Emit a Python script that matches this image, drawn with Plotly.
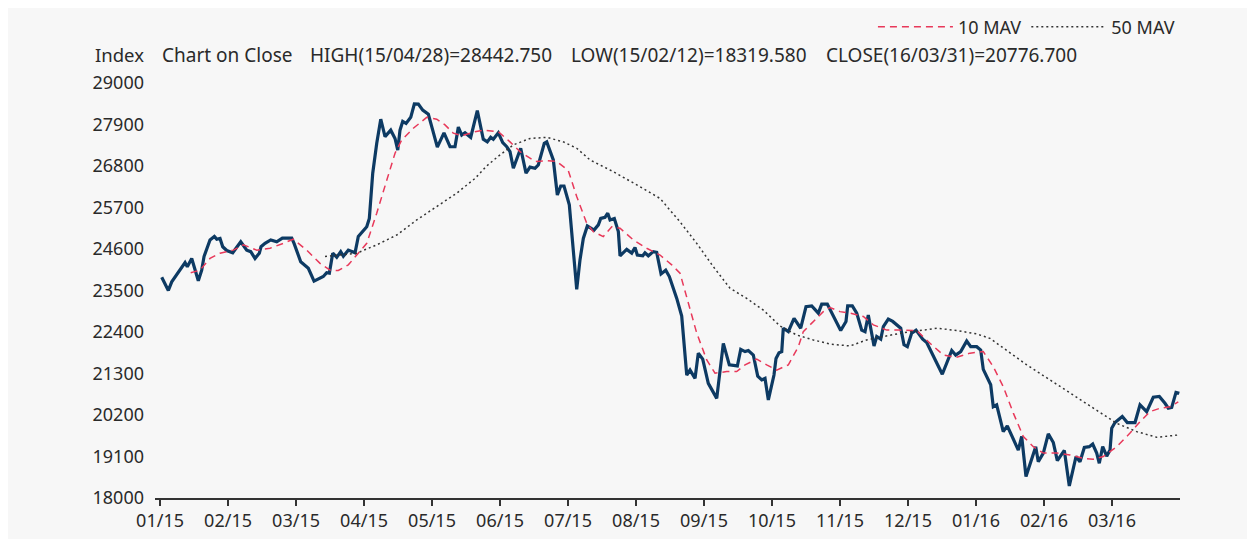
import plotly.graph_objects as go

# x positions are in months since 1 Jan 2015 (0 = 01/15, 1 = 02/15, ...)
month_labels = ["01/15", "02/15", "03/15", "04/15", "05/15", "06/15", "07/15", "08/15",
                "09/15", "10/15", "11/15", "12/15", "01/16", "02/16", "03/16"]
y_ticks = [18000, 19100, 20200, 21300, 22400, 23500, 24600, 25700, 26800, 27900, 29000]

close_t = [0.025, 0.122, 0.172, 0.246, 0.368, 0.401, 0.466, 0.563, 0.613, 0.647, 0.735, 0.799,
           0.834, 0.882, 0.922, 0.981, 1.069, 1.187, 1.275, 1.334, 1.397, 1.460, 1.485, 1.544,
           1.628, 1.716, 1.799, 1.937, 1.971, 2.069, 2.181, 2.265, 2.401, 2.451, 2.490, 2.540,
           2.599, 2.657, 2.696, 2.769, 2.868, 2.916, 3.040, 3.078, 3.128, 3.187, 3.246, 3.309,
           3.393, 3.456, 3.496, 3.529, 3.569, 3.618, 3.687, 3.740, 3.799, 3.863, 3.946, 4.010,
           4.078, 4.176, 4.265, 4.338, 4.387, 4.437, 4.485, 4.569, 4.666, 4.754, 4.813, 4.863,
           4.901, 4.975, 5.040, 5.099, 5.147, 5.196, 5.304, 5.382, 5.441, 5.515, 5.563, 5.651,
           5.687, 5.784, 5.843, 5.893, 5.941, 6.019, 6.128, 6.176, 6.225, 6.284, 6.382, 6.446,
           6.481, 6.544, 6.584, 6.618, 6.681, 6.740, 6.765, 6.863, 6.937, 6.985, 7.019, 7.099,
           7.132, 7.181, 7.254, 7.304, 7.368, 7.437, 7.490, 7.599, 7.672, 7.746, 7.794, 7.868,
           7.916, 7.981, 8.063, 8.187, 8.284, 8.372, 8.490, 8.540, 8.603, 8.652, 8.725, 8.790,
           8.849, 8.897, 8.946, 9.029, 9.059, 9.103, 9.143, 9.166, 9.240, 9.324, 9.422, 9.500,
           9.584, 9.681, 9.731, 9.813, 9.901, 10.010, 10.088, 10.113, 10.181, 10.246, 10.319,
           10.368, 10.416, 10.500, 10.540, 10.599, 10.637, 10.710, 10.775, 10.893, 10.941,
           10.990, 11.054, 11.118, 11.216, 11.275, 11.504, 11.643, 11.701, 11.775, 11.863,
           11.922, 12.010, 12.069, 12.107, 12.157, 12.216, 12.254, 12.304, 12.401, 12.460,
           12.622, 12.672, 12.735, 12.819, 12.878, 12.916, 12.990, 13.063, 13.137, 13.196,
           13.299, 13.372, 13.471, 13.529, 13.593, 13.666, 13.716, 13.775, 13.813, 13.863,
           13.922, 13.971, 13.996, 14.044, 14.151, 14.225, 14.338, 14.412, 14.510, 14.607,
           14.696, 14.779, 14.828, 14.878, 14.941, 14.990]
close_v = [23850, 23500, 23730, 23910, 24240, 24130, 24350, 23760, 24040, 24400, 24840, 24930,
           24860, 24880, 24660, 24560, 24500, 24790, 24570, 24530, 24350, 24490, 24660, 24750,
           24840, 24790, 24890, 24890, 24750, 24260, 24090, 23750, 23870, 23970, 23960, 24490,
           24380, 24530, 24410, 24570, 24500, 24930, 25190, 25410, 26610, 27400, 28040, 27580,
           27750, 27530, 27220, 27750, 27980, 27930, 28090, 28443, 28440, 28280, 28170, 27750,
           27300, 27680, 27310, 27310, 27830, 27620, 27680, 27560, 28270, 27510, 27440, 27560,
           27510, 27680, 27420, 27310, 27180, 26740, 27270, 26610, 26770, 26740, 26830, 27400,
           27440, 26960, 26030, 26270, 26270, 25770, 23530, 24310, 24880, 25210, 25100, 25240,
           25410, 25440, 25550, 25370, 25410, 25060, 24420, 24590, 24490, 24640, 24440, 24420,
           24500, 24420, 24530, 24510, 23940, 24040, 23870, 23290, 22820, 21260, 21390, 21170,
           21840, 21680, 21040, 20640, 22100, 21530, 21500, 21940, 21880, 21910, 21790, 21230,
           21130, 21170, 20600, 21260, 21700, 21850, 21880, 22500, 22410, 22760, 22500, 23070,
           23090, 22900, 23140, 23140, 22810, 22440, 22680, 23090, 23090, 22900, 22450,
           22410, 22850, 22030, 22280, 22210, 22540, 22740, 22680, 22500, 22060,
           22010, 22370, 22450, 22210, 22120, 21280, 21910, 21790, 21880, 22160,
           22010, 22010, 21920, 21410, 21220, 21000, 20420, 20470, 19760, 19910,
           19270, 19630, 18570, 19010, 19360, 18960, 19190, 19700, 19470, 18990,
           19260, 18320, 19100, 18960, 19340, 19360, 19430, 19190, 18920, 19360,
           19110, 19270, 19850, 20000, 20160, 20000, 20000, 20470, 20290, 20670,
           20690, 20510, 20380, 20400, 20800, 20777]

mav10_t = [0.451, 0.588, 0.735, 0.882, 1.078, 1.225, 1.422, 1.618, 1.813, 1.960, 2.157, 2.353,
           2.500, 2.622, 2.769, 2.916, 3.040, 3.187, 3.334, 3.456, 3.554, 3.725, 3.922, 4.069,
           4.191, 4.313, 4.437, 4.632, 4.754, 4.975, 5.147, 5.294, 5.515, 5.687, 5.834, 6.004,
           6.128, 6.275, 6.372, 6.519, 6.643, 6.765, 6.960, 7.157, 7.353, 7.525, 7.647, 7.769,
           7.893, 8.040, 8.162, 8.334, 8.481, 8.603, 8.775, 8.922, 9.069, 9.240, 9.387, 9.460,
           9.607, 9.754, 9.853, 10.000, 10.147, 10.343, 10.490, 10.687, 10.882, 11.128, 11.324,
           11.519, 11.716, 11.912, 12.107, 12.254, 12.401, 12.549, 12.696, 12.843, 12.990,
           13.187, 13.382, 13.578, 13.725, 13.872, 14.069, 14.265, 14.412, 14.559, 14.706,
           14.853, 14.975]
mav10_v = [23970, 24040, 24350, 24490, 24570, 24710, 24570, 24620, 24750, 24860, 24570, 24220,
           24040, 24030, 24180, 24490, 24750, 25550, 26430, 27140, 27490, 27800, 28090, 28040,
           27890, 27670, 27600, 27710, 27750, 27710, 27440, 27180, 26920, 26940, 26920, 26680,
           25990, 25280, 25060, 24930, 25190, 25150, 24840, 24620, 24440, 24180, 23960, 23160,
           22370, 21660, 21310, 21350, 21350, 21530, 21680, 21530, 21390, 21530, 22010, 22410,
           22680, 22940, 23050, 22940, 22900, 22810, 22590, 22450, 22450, 22440, 22100,
           21790, 21730, 21840, 21880, 21480, 20950, 20250, 19630, 19360, 19190,
           19190, 19140, 19050, 19030, 19100, 19360, 19720, 20020, 20290, 20380,
           20420, 20550]

mav50_t = [2.426, 2.893, 3.187, 3.481, 3.775, 4.069, 4.363, 4.632, 4.804, 4.975, 5.196, 5.441,
           5.687, 5.931, 6.128, 6.324, 6.666, 7.010, 7.353, 7.647, 7.893, 8.137, 8.382, 8.628,
           8.872, 9.118, 9.363, 9.607, 9.853, 10.147, 10.393, 10.637, 10.931, 11.225, 11.422,
           11.716, 12.010, 12.206, 12.451, 12.746, 13.088, 13.431, 13.775, 14.069, 14.363,
           14.657, 14.975]
mav50_v = [24400, 24490, 24710, 24970, 25370, 25720, 26080, 26470, 26800, 27060, 27360, 27530,
           27560, 27440, 27270, 26960, 26650, 26300, 25940, 25320, 24750, 24130, 23560, 23290,
           22980, 22560, 22320, 22190, 22080, 22030, 22190, 22280, 22380, 22450, 22500,
           22440, 22350, 22230, 21920, 21530, 21130, 20730, 20330, 19980, 19760,
           19610, 19670]

header_index = "Index"
header_parts = ["Chart on Close", "HIGH(15/04/28)=28442.750",
                "LOW(15/02/12)=18319.580", "CLOSE(16/03/31)=20776.700"]
header_x = [0.0049, 0.1493, 0.4039, 0.6527]

FONT = "Noto Sans"
TXT = "#2a2a2a"

fig = go.Figure()
fig.add_trace(go.Scatter(x=close_t, y=close_v, mode="lines", name="Close", showlegend=False,
                         line=dict(color="#0d3a63", width=3.2, shape="linear")))
fig.add_trace(go.Scatter(x=mav10_t, y=mav10_v, mode="lines", name="10 MAV",
                         line=dict(color="#e8395a", width=1.5, dash="7px,5px")))
fig.add_trace(go.Scatter(x=mav50_t, y=mav50_v, mode="lines", name="50 MAV",
                         line=dict(color="#333333", width=1.5, dash="2px,3px")))

annotations = [dict(text=header_index, xref="paper", yref="paper", x=-0.0605, y=1.0675,
                    xanchor="left", yanchor="middle", showarrow=False,
                    font=dict(family=FONT, size=18.5, color=TXT))]
for t, xp in zip(header_parts, header_x):
    annotations.append(dict(text=t, xref="paper", yref="paper", x=xp, y=1.0675,
                            xanchor="left", yanchor="middle", showarrow=False,
                            font=dict(family=FONT, size=19, color=TXT)))

fig.update_layout(
    width=1247, height=531,
    margin=dict(l=147, r=75, t=75, b=41, pad=0, autoexpand=False),
    paper_bgcolor="#f7f7f7", plot_bgcolor="#f7f7f7",
    font=dict(family=FONT, size=18, color=TXT),
    annotations=annotations,
    legend=dict(orientation="h", xref="container", yref="container",
                x=0.9398, xanchor="right", y=0.9642, yanchor="middle",
                bgcolor="rgba(0,0,0,0)", font=dict(family=FONT, size=18, color=TXT),
                itemwidth=75, traceorder="normal"),
    xaxis=dict(range=[-0.074, 15.0], tickmode="array", tickvals=list(range(len(month_labels))),
               ticktext=month_labels, showgrid=False, zeroline=False, automargin=False,
               showline=True, linecolor="#333333", linewidth=1.5,
               ticks="outside", ticklen=6, tickwidth=1.5, tickcolor="#333333"),
    yaxis=dict(range=[18000, 29000], tickmode="array", tickvals=y_ticks, automargin=False,
               ticktext=[str(v) for v in y_ticks], showgrid=False, zeroline=False,
               showline=False, ticks="", ticklabelstandoff=10),
)

fig.write_html("out.html")
